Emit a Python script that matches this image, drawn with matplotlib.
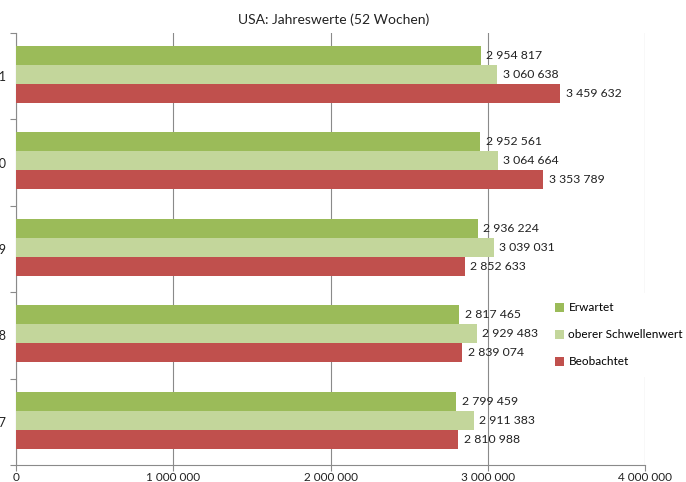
import matplotlib
matplotlib.use("Agg")
import matplotlib.pyplot as plt
from matplotlib.ticker import FuncFormatter, FixedLocator
from matplotlib.patches import Patch

plt.rcParams['font.family'] = ['Lato', 'DejaVu Sans']

years = ["2021", "2020", "2019", "2018", "2017"]
erwartet = [2954817, 2952561, 2936224, 2817465, 2799459]
schwelle = [3060638, 3064664, 3039031, 2929483, 2911383]
beobachtet = [3459632, 3353789, 2852633, 2839074, 2810988]

series = [
    ("Erwartet", erwartet, "#9BBB59"),
    ("oberer Schwellenwert", schwelle, "#C3D69B"),
    ("Beobachtet", beobachtet, "#C0504D"),
]

W, H = 686, 482
fig = plt.figure(figsize=(W / 100, H / 100), dpi=100)
ax = fig.add_axes([16 / W, 1 - 465 / H, (645 - 16) / W, (465 - 33) / H])


def spaced(v, pos=None):
    return f"{int(round(v)):,}".replace(",", " ")


bar_h = 0.22
offsets = [-bar_h, 0.0, bar_h]
pos = list(range(len(years)))
for (name, vals, color), off in zip(series, offsets):
    bars = ax.barh([p + off - 0.02 for p in pos], vals, height=bar_h,
                   color=color, label=name, zorder=3)
    ax.bar_label(bars, labels=[spaced(v) for v in vals], padding=4,
                 fontsize=8.8, color="#222222")

ax.set_xlim(0, 4000000)
ax.set_ylim(len(years) - 0.5, -0.5)

ax.xaxis.set_major_locator(FixedLocator([0, 1000000, 2000000, 3000000, 4000000]))
ax.xaxis.set_major_formatter(FuncFormatter(spaced))
ax.grid(axis="x", color="#8a8a8a", linewidth=0.8, zorder=0)
ax.tick_params(axis="x", length=4, color="#8a8a8a", labelsize=8.5,
               labelcolor="#222222", pad=1)

# category boundaries as major ticks, labels at the centres
ax.yaxis.set_major_locator(FixedLocator([p - 0.5 for p in range(len(years) + 1)]))
ax.yaxis.set_major_formatter(FuncFormatter(lambda v, p: ""))
ax.yaxis.set_minor_locator(FixedLocator(pos))
ax.set_yticklabels(years, minor=True)
ax.tick_params(axis="y", which="major", length=4, color="#8a8a8a")
ax.tick_params(axis="y", which="minor", length=0, pad=7, labelsize=9,
               labelcolor="#222222")

for s in ("top", "right"):
    ax.spines[s].set_visible(False)
for s in ("left", "bottom"):
    ax.spines[s].set_color("#8a8a8a")
    ax.spines[s].set_linewidth(0.8)

fig.text(334 / W, 1 - 20 / H, "USA: Jahreswerte (52 Wochen)", ha="center",
         va="center", fontsize=10, color="#222222")

handles = [Patch(facecolor=c, edgecolor="none", label=n) for n, _, c in series]
leg = ax.legend(handles=handles, loc="upper left",
                bbox_to_anchor=(546 / W, 1 - 293 / H), bbox_transform=fig.transFigure,
                frameon=True, fancybox=False, facecolor="white", edgecolor="none",
                framealpha=1, fontsize=8.5, handlelength=0.75, handleheight=0.75,
                handletextpad=0.35, labelspacing=1.35, borderpad=0.8,
                borderaxespad=0)
leg.set_zorder(10)

fig.savefig("out.png", dpi=100)
